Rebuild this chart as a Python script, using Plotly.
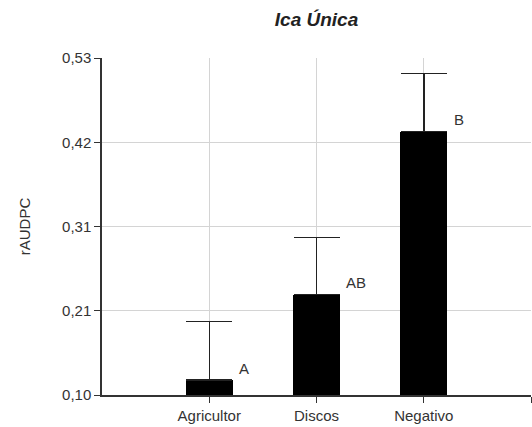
import plotly.graph_objects as go

# Treatment means of rAUDPC with upper standard-error whiskers
categories = ["Agricultor", "Discos", "Negativo"]
raudpc_mean = [0.119, 0.228, 0.436]
raudpc_err = [0.075, 0.073, 0.074]
group_letters = ["A", "AB", "B"]

# Y-axis ticks (four equal intervals between 0,10 and 0,53)
y_tick_vals = [0.10, 0.2075, 0.315, 0.4225, 0.53]
y_tick_text = ["0,10", "0,21", "0,31", "0,42", "0,53"]

x_pos = list(range(len(categories)))
FONT = "Liberation Sans, Arial, sans-serif"
TXT = "#333333"

fig = go.Figure()
fig.add_trace(go.Bar(
    x=x_pos,
    y=raudpc_mean,
    width=0.44,
    marker=dict(color="black", line=dict(width=0)),
    error_y=dict(
        type="data",
        symmetric=False,
        array=raudpc_err,
        arrayminus=[0] * len(raudpc_err),
        color="#222222",
        thickness=1.5,
        width=23,
    ),
    showlegend=False,
    hoverinfo="skip",
))

for xi, m, lab in zip(x_pos, raudpc_mean, group_letters):
    fig.add_annotation(
        x=xi + 0.26, y=m, text=lab, showarrow=False,
        xanchor="left", yanchor="middle", yshift=12,
        font=dict(family=FONT, size=15, color=TXT),
    )

fig.add_annotation(
    xref="paper", yref="paper", x=-0.18, y=0.5,
    text="rAUDPC", textangle=-90, showarrow=False,
    xanchor="center", yanchor="middle",
    font=dict(family=FONT, size=15, color=TXT),
)

fig.update_layout(
    width=532, height=427,
    margin=dict(l=102, r=1, t=58, b=32),
    paper_bgcolor="white", plot_bgcolor="white",
    title=dict(
        text="<b><i>Ica Única</i></b>",
        xref="paper", x=0.5, xanchor="center",
        yref="container", y=0.955, yanchor="middle",
        font=dict(family=FONT, size=19, color="#222222"),
    ),
    bargap=0,
)

fig.update_xaxes(
    range=[-1, 3],
    tickmode="array",
    tickvals=x_pos + [len(categories)],
    ticktext=categories + [""],
    showgrid=True, gridcolor="#d4d4d4", gridwidth=1.3,
    showline=True, linecolor="#333333", linewidth=1.5,
    ticks="outside", ticklen=6, tickcolor="#333333", tickwidth=1.3,
    tickfont=dict(family=FONT, size=15, color=TXT),
    zeroline=False, fixedrange=True,
)
fig.update_yaxes(
    range=[0.10, 0.53],
    tickmode="array",
    tickvals=y_tick_vals,
    ticktext=y_tick_text,
    showgrid=True, gridcolor="#d4d4d4", gridwidth=1.3,
    showline=True, linecolor="#333333", linewidth=1.5,
    ticks="outside", ticklen=6, tickcolor="#333333", tickwidth=1.3,
    tickfont=dict(family=FONT, size=15, color=TXT),
    zeroline=False, fixedrange=True,
)

fig.write_html("out.html")
